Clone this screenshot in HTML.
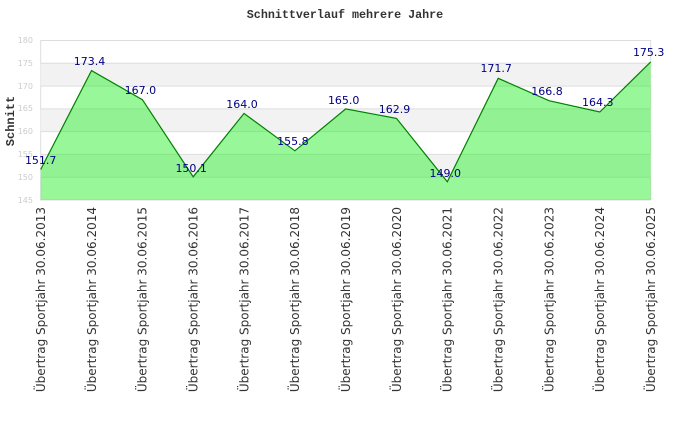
<!DOCTYPE html>
<html><head><meta charset="utf-8"><style>html,body{margin:0;padding:0;background:#fff}</style></head><body>
<svg width="690" height="420" xmlns="http://www.w3.org/2000/svg">
<text x="345" y="18" text-anchor="middle" font-family="Liberation Mono, monospace" font-weight="bold" font-size="11.7" fill="#333">Schnittverlauf mehrere Jahre</text>
<rect x="40.7" y="40.5" width="610" height="159.5" fill="#fff" stroke="#ddd"/>
<rect x="40.7" y="63.3" width="610" height="22.8" fill="#f2f2f2"/>
<rect x="40.7" y="108.9" width="610" height="22.8" fill="#f2f2f2"/>
<rect x="40.7" y="154.4" width="610" height="22.8" fill="#f2f2f2"/>
<g stroke="#ddd" stroke-width="1">
<line x1="40.7" x2="650.7" y1="63.3" y2="63.3"/><line x1="40.7" x2="650.7" y1="86.1" y2="86.1"/><line x1="40.7" x2="650.7" y1="108.9" y2="108.9"/><line x1="40.7" x2="650.7" y1="131.6" y2="131.6"/><line x1="40.7" x2="650.7" y1="154.4" y2="154.4"/><line x1="40.7" x2="650.7" y1="177.2" y2="177.2"/>
</g>
<g font-family="DejaVu Sans, sans-serif" font-size="8" fill="#ccc" text-anchor="end">
<text x="33" y="43">180</text><text x="33" y="66">175</text><text x="33" y="89">170</text><text x="33" y="111">165</text><text x="33" y="134">160</text><text x="33" y="157">155</text><text x="33" y="180">150</text><text x="33" y="203">145</text>
</g>
<text transform="translate(14,121) rotate(-90)" text-anchor="middle" font-family="Liberation Mono, monospace" font-weight="bold" font-size="12" fill="#333">Schnitt</text>
<polygon fill="#32f032" fill-opacity="0.5" points="40.7,200 40.7,169.5 91.5,70.6 142.4,99.7 193.2,176.8 244,113.4 294.9,150.8 345.7,108.9 396.5,118.4 447.3,181.8 498.2,78.3 549,100.7 599.8,112 650.7,61.9 650.7,200"/>
<polyline fill="none" stroke="#008000" stroke-width="1.2" points="40.7,169.5 91.5,70.6 142.4,99.7 193.2,176.8 244,113.4 294.9,150.8 345.7,108.9 396.5,118.4 447.3,181.8 498.2,78.3 549,100.7 599.8,112 650.7,61.9"/>
<g font-family="DejaVu Sans, sans-serif" font-size="11" fill="#000080" text-anchor="middle">
<text x="40.7" y="164">151.7</text><text x="89.5" y="65">173.4</text><text x="140.4" y="94">167.0</text><text x="191.2" y="172">150.1</text><text x="242" y="108">164.0</text><text x="292.9" y="145">155.8</text><text x="343.7" y="104">165.0</text><text x="394.5" y="113">162.9</text><text x="445.3" y="177">149.0</text><text x="496.2" y="72">171.7</text><text x="547" y="95">166.8</text><text x="597.8" y="106">164.3</text><text x="648.7" y="56">175.3</text>
</g>
<g font-family="DejaVu Sans, sans-serif" font-size="12" fill="#333" text-anchor="end">
<text transform="translate(45,207) rotate(-90)">Übertrag Sportjahr 30.06.2013</text>
<text transform="translate(95.8,207) rotate(-90)">Übertrag Sportjahr 30.06.2014</text>
<text transform="translate(146.7,207) rotate(-90)">Übertrag Sportjahr 30.06.2015</text>
<text transform="translate(197.5,207) rotate(-90)">Übertrag Sportjahr 30.06.2016</text>
<text transform="translate(248.3,207) rotate(-90)">Übertrag Sportjahr 30.06.2017</text>
<text transform="translate(299.2,207) rotate(-90)">Übertrag Sportjahr 30.06.2018</text>
<text transform="translate(350,207) rotate(-90)">Übertrag Sportjahr 30.06.2019</text>
<text transform="translate(400.8,207) rotate(-90)">Übertrag Sportjahr 30.06.2020</text>
<text transform="translate(451.6,207) rotate(-90)">Übertrag Sportjahr 30.06.2021</text>
<text transform="translate(502.5,207) rotate(-90)">Übertrag Sportjahr 30.06.2022</text>
<text transform="translate(553.3,207) rotate(-90)">Übertrag Sportjahr 30.06.2023</text>
<text transform="translate(604.1,207) rotate(-90)">Übertrag Sportjahr 30.06.2024</text>
<text transform="translate(655,207) rotate(-90)">Übertrag Sportjahr 30.06.2025</text>
</g>
</svg>
</body></html>
